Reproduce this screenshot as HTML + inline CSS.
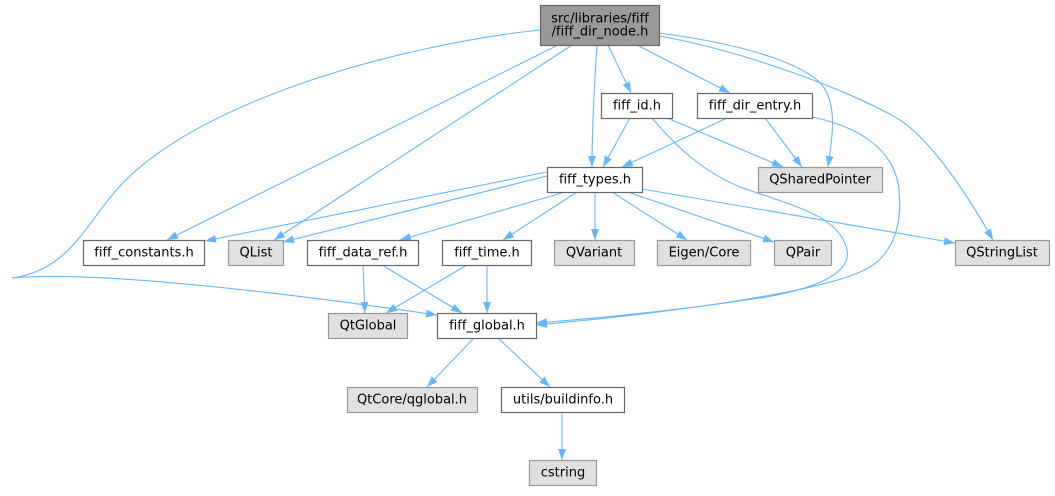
<!DOCTYPE html>
<html>
<head>
<meta charset="utf-8">
<style>
html,body{margin:0;padding:0;background:#fff;}
body{width:1055px;height:491px;overflow:hidden;}
svg text{font-family:"DejaVu Sans","Liberation Sans",sans-serif;font-size:13px;fill:#000;text-anchor:middle;font-variant-ligatures:none;}
</style>
</head>
<body>
<svg width="1055" height="491" viewBox="0 0 1055 491" xmlns="http://www.w3.org/2000/svg">
<defs>
<marker id="a" markerWidth="12" markerHeight="9" refX="11" refY="4" orient="auto" markerUnits="userSpaceOnUse">
<path d="M0,0 L11,4 L0,8 z" fill="#63b8ff"/>
</marker>
</defs>
<g fill="none" stroke="#63b8ff" stroke-width="1.1" marker-end="url(#a)">
<!-- root edges -->
<path d="M540,30 C400,45 200,100 120,186 C85,224 70,270 12,278 C100,270 300,295 437,315"/>
<path d="M558,45 L167,240"/>
<path d="M572,45 L274,240"/>
<path d="M597,45 C594,90 592,130 592,167"/>
<path d="M608,45 L631,93"/>
<path d="M637,45 L730,93"/>
<path d="M659,33 C750,45 805,65 822,85 C838,105 832,140 828,167"/>
<path d="M659,36 C740,50 850,90 900,120 C930,140 965,190 993,240"/>
<!-- fiff_id -->
<path d="M630,118 L603,167"/>
<path d="M667,118 L783,167"/>
<path d="M652,118 C675,145 700,170 740,187 C790,205 840,215 847,250 C852,275 810,290 760,298 C680,310 600,318 536,323"/>
<!-- fiff_dir_entry -->
<path d="M727,118 L622,167"/>
<path d="M765,118 L802,167"/>
<path d="M812,117 C860,127 895,150 899,190 C903,230 890,260 860,272 C820,290 700,310 536,325"/>
<!-- fiff_types -->
<path d="M547,172 L205,241"/>
<path d="M547,176 L283,242"/>
<path d="M565,192 L400,240"/>
<path d="M577,192 L503,240"/>
<path d="M595,192 L595,240"/>
<path d="M612,192 L687,240"/>
<path d="M628,192 L774,242"/>
<path d="M642,189 L955,243"/>
<!-- lower -->
<path d="M363,265 L365,313"/>
<path d="M382,265 L462,313"/>
<path d="M467,265 L386,313"/>
<path d="M487,265 L487,313"/>
<path d="M474,338 L427,387"/>
<path d="M498,338 L550,387"/>
<path d="M562,412 L562,460"/>
</g>
<!-- nodes -->
<g stroke-width="1.2">
<rect x="540.5" y="5.5" width="119" height="40" fill="#999999" stroke="#666666"/>
<rect x="601.5" y="93.5" width="71" height="25" fill="#ffffff" stroke="#666666"/>
<rect x="697.5" y="93.5" width="115" height="25" fill="#ffffff" stroke="#666666"/>
<rect x="547.5" y="167.5" width="95" height="25" fill="#ffffff" stroke="#666666"/>
<rect x="758.5" y="167.5" width="124" height="25" fill="#e0e0e0" stroke="#999999"/>
<rect x="83.5" y="240.5" width="121" height="25" fill="#ffffff" stroke="#666666"/>
<rect x="228.5" y="240.5" width="55" height="25" fill="#e0e0e0" stroke="#999999"/>
<rect x="307.5" y="240.5" width="111" height="25" fill="#ffffff" stroke="#666666"/>
<rect x="442.5" y="240.5" width="89" height="25" fill="#ffffff" stroke="#666666"/>
<rect x="554.5" y="240.5" width="80" height="25" fill="#e0e0e0" stroke="#999999"/>
<rect x="657.5" y="240.5" width="93" height="25" fill="#e0e0e0" stroke="#999999"/>
<rect x="774.5" y="240.5" width="57" height="25" fill="#e0e0e0" stroke="#999999"/>
<rect x="955.5" y="240.5" width="94" height="25" fill="#e0e0e0" stroke="#999999"/>
<rect x="328.5" y="313.5" width="79" height="25" fill="#e0e0e0" stroke="#999999"/>
<rect x="437.5" y="313.5" width="99" height="25" fill="#ffffff" stroke="#666666"/>
<rect x="347.5" y="387.5" width="130" height="25" fill="#e0e0e0" stroke="#999999"/>
<rect x="501.5" y="387.5" width="123" height="25" fill="#ffffff" stroke="#666666"/>
<rect x="529.5" y="460.5" width="67" height="25" fill="#e0e0e0" stroke="#999999"/>
</g>
<g>
<text x="600" y="22.5">src/libraries/fiff</text>
<text x="600" y="35.3">/fiff_dir_node.h</text>
<text x="637" y="109.5">fiff_id.h</text>
<text x="755" y="109.5">fiff_dir_entry.h</text>
<text x="595" y="183.5">fiff_types.h</text>
<text x="820" y="183.5">QSharedPointer</text>
<text x="144" y="256.5">fiff_constants.h</text>
<text x="256" y="256.5">QList</text>
<text x="363" y="256.5">fiff_data_ref.h</text>
<text x="487" y="256.5">fiff_time.h</text>
<text x="594" y="256.5">QVariant</text>
<text x="704" y="256.5">Eigen/Core</text>
<text x="803" y="256.5">QPair</text>
<text x="1002" y="256.5">QStringList</text>
<text x="368" y="329.5">QtGlobal</text>
<text x="487" y="329.5">fiff_global.h</text>
<text x="412" y="403.5">QtCore/qglobal.h</text>
<text x="563" y="403.5">utils/buildinfo.h</text>
<text x="563" y="476.5">cstring</text>
</g>
</svg>
</body>
</html>
